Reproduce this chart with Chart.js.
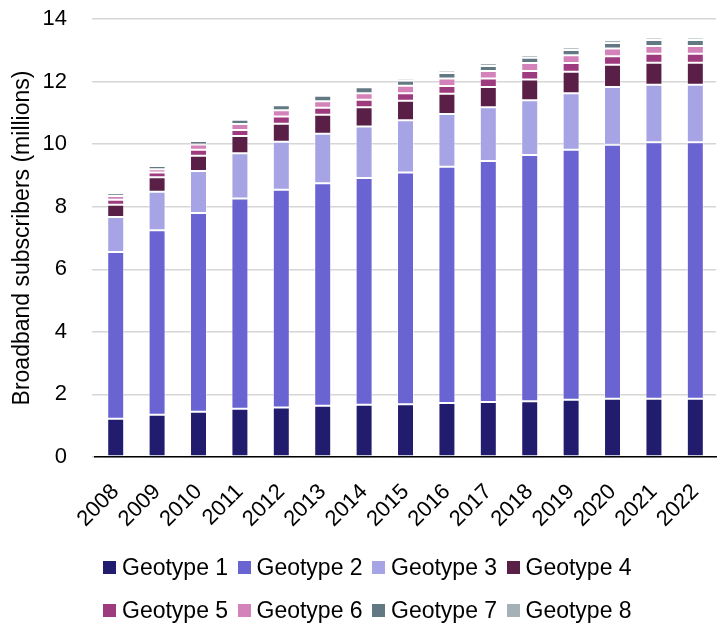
<!DOCTYPE html>
<html><head><meta charset="utf-8">
<script src="https://cdn.jsdelivr.net/npm/chart.js@4/dist/chart.umd.min.js"></script>
<style>
html,body{margin:0;padding:0;background:#fff;overflow:hidden;width:718px;height:626px;}
#wrap{position:absolute;left:0;top:0;width:728px;height:626px;}
#legend{position:absolute;left:103px;top:546px;display:grid;grid-template-columns:repeat(4,134.5px);grid-auto-rows:43px;font-family:"Liberation Sans",Arial,sans-serif;font-size:23px;color:#000;}
.item{display:flex;align-items:center;white-space:nowrap;}
.box{width:13px;height:13px;margin-right:6px;flex:none;}
</style></head>
<body>
<div id="wrap"><canvas id="c" width="728" height="626"></canvas></div>
<div id="legend"></div>
<script>
const years = ['2008','2009','2010','2011','2012','2013','2014','2015','2016','2017','2018','2019','2020','2021','2022'];
const seriesNames = ['Geotype 1','Geotype 2','Geotype 3','Geotype 4','Geotype 5','Geotype 6','Geotype 7','Geotype 8'];
const geotype1 = [1.22,1.35,1.45,1.54,1.58,1.64,1.67,1.69,1.73,1.76,1.78,1.83,1.86,1.86,1.86];
const geotype2 = [5.33,5.90,6.35,6.72,6.96,7.11,7.25,7.40,7.55,7.70,7.87,7.99,8.12,8.20,8.20];
const geotype3 = [1.12,1.23,1.34,1.45,1.54,1.58,1.64,1.67,1.68,1.72,1.75,1.81,1.85,1.84,1.84];
const geotype4 = [0.39,0.46,0.49,0.55,0.57,0.61,0.62,0.63,0.65,0.65,0.67,0.68,0.71,0.70,0.70];
const geotype5 = [0.16,0.15,0.19,0.19,0.23,0.22,0.24,0.24,0.25,0.27,0.27,0.28,0.27,0.29,0.29];
const geotype6 = [0.12,0.11,0.17,0.19,0.20,0.21,0.21,0.24,0.24,0.24,0.25,0.25,0.25,0.25,0.25];
const geotype7 = [0.09,0.10,0.11,0.14,0.16,0.18,0.19,0.16,0.17,0.16,0.17,0.17,0.17,0.19,0.19];
const geotype8 = [0.03,0.05,0.03,0.04,0.04,0.05,0.06,0.07,0.08,0.09,0.09,0.09,0.10,0.08,0.08];
const yTicks = [0,2,4,6,8,10,12,14];
const yTitle = 'Broadband subscribers (millions)';

const values = [geotype1,geotype2,geotype3,geotype4,geotype5,geotype6,geotype7,geotype8];
const colors = ['#221c6e','#6a64d3','#a7a4e5','#5a1f47','#9e3b7e','#d483ba','#627983','#a4b1b7'];
const FONT = '"Liberation Sans", Arial, sans-serif';

const datasets = seriesNames.map((n,i)=>({
  label:n, data:values[i], backgroundColor:colors[i],
  borderColor:'rgba(255,255,255,0.45)', borderWidth:1, borderSkipped:false,
  categoryPercentage:1, barPercentage:0.41
}));

const chart = new Chart(document.getElementById('c'), {
  type:'bar',
  data:{labels:years, datasets},
  options:{
    responsive:false, animation:false, devicePixelRatio:1,
    layout:{padding:{top:19,left:0,right:0,bottom:0}},
    plugins:{legend:{display:false}, tooltip:{enabled:false}},
    scales:{
      x:{stacked:true, grid:{display:false}, border:{display:true,color:'#000',width:1.5},
        ticks:{autoSkip:false, minRotation:45, maxRotation:45, color:'#000', padding:14, font:{family:FONT,size:22}},
        afterFit:(s)=>{s.height=169;}},
      y:{stacked:true, min:0, max:14,
        afterBuildTicks:(s)=>{s.ticks = yTicks.map(v=>({value:v}));},
        ticks:{color:'#000', padding:25, font:{family:FONT,size:22}},
        grid:{color:'#d6d6d6', lineWidth:1.5, tickLength:3},
        border:{display:false},
        title:{display:true, text:yTitle, color:'#000', font:{family:FONT,size:23}, padding:{top:9,bottom:0}},
        afterFit:(s)=>{s.width=95; s.paddingTop=10; s.paddingBottom=10;}}
    }
  }
});

const leg = document.getElementById('legend');
chart.data.datasets.forEach(ds=>{
  const it=document.createElement('div'); it.className='item';
  const b=document.createElement('span'); b.className='box'; b.style.background=ds.backgroundColor;
  const t=document.createElement('span'); t.textContent=ds.label;
  it.appendChild(b); it.appendChild(t); leg.appendChild(it);
});
</script>
</body></html>
